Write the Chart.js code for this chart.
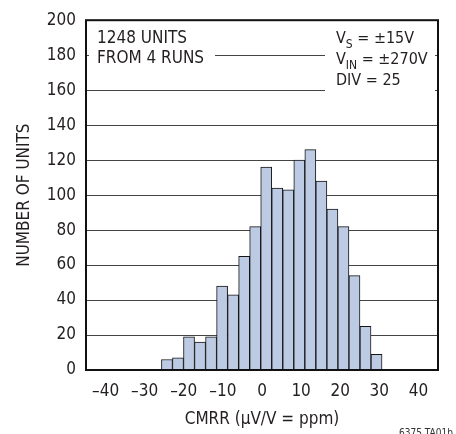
<!DOCTYPE html>
<html>
<head>
<meta charset="utf-8">
<script src="https://cdn.jsdelivr.net/npm/chart.js@4/dist/chart.umd.min.js"></script>
<style>
  html, body { margin: 0; padding: 0; background: #fff; }
  #wrap { width: 456px; height: 434px; position: relative; }
</style>
</head>
<body>
<div id="wrap"><canvas id="histChart"></canvas></div>
<script>
(function() {
    "use strict";

    var FONT = "'Liberation Sans Narrow', 'DejaVu Sans Condensed', 'Arial Narrow', sans-serif";

    // bin centres (µV/V) and counts
    var binCenters = [-24.30, -21.48, -18.66, -15.84, -13.02, -10.20, -7.38, -4.56, -1.74, 1.08,
                      3.90, 6.72, 9.54, 12.36, 15.18, 18.00, 20.82, 23.64, 26.46, 29.28];
    var unitCounts = [6, 7, 19, 16, 19, 48, 43, 65, 82, 116,
                      104, 103, 120, 126, 108, 92, 82, 54, 25, 9];
    var xTicks = [-40, -30, -20, -10, 0, 10, 20, 30, 40];
    var yTicks = [0, 20, 40, 60, 80, 100, 120, 140, 160, 180, 200];

    var points = binCenters.map(function(c, i) {
        return { x: c, y: unitCounts[i] };
    });

    // frame + text boxes inside the plot
    var notesPlugin = {
        id: 'notes',
        afterDatasetsDraw: function(chart) {
            var ctx = chart.ctx;
            var a = chart.chartArea;
            ctx.save();

            // white boxes that interrupt the grid lines
            ctx.fillStyle = '#fff';
            ctx.fillRect(a.left + 3, a.top + 2, 126, 50);
            ctx.fillRect(a.left + 239, a.top + 2, 110, 78);

            ctx.fillStyle = '#231f20';
            ctx.textBaseline = 'alphabetic';
            ctx.textAlign = 'left';
            ctx.font = '17px ' + FONT;
            ctx.fillText('1248 UNITS', a.left + 11, a.top + 23);
            ctx.fillText('FROM 4 RUNS', a.left + 11, a.top + 43);

            function sub(x, y, main, small, rest) {
                ctx.font = '16px ' + FONT;
                ctx.fillText(main, x, y);
                x += ctx.measureText(main).width;
                ctx.font = '12px ' + FONT;
                ctx.fillText(small, x, y + 5);
                x += ctx.measureText(small).width;
                ctx.font = '16px ' + FONT;
                ctx.fillText(rest, x, y);
            }
            sub(a.left + 250, a.top + 23, 'V', 'S', ' = ±15V');
            sub(a.left + 250, a.top + 44, 'V', 'IN', ' = ±270V');
            ctx.fillText('DIV = 25', a.left + 250, a.top + 65);

            // plot frame
            ctx.strokeStyle = '#111';
            ctx.lineWidth = 2;
            ctx.strokeRect(a.left, a.top, a.right - a.left, a.bottom - a.top);

            // figure code
            ctx.font = '10px ' + FONT;
            ctx.fillStyle = '#333';
            ctx.textAlign = 'center';
            ctx.fillText('6375 TA01b', 426, 436);
            ctx.restore();
        }
    };

    var ctx = document.getElementById('histChart').getContext('2d');
    var histChart = new Chart(ctx, {
        type: 'bar',
        data: {
            datasets: [{
                data: points,
                backgroundColor: '#bccbe3',
                borderColor: '#151515',
                borderWidth: 1,
                barThickness: 'flex',
                barPercentage: 1,
                categoryPercentage: 1
            }]
        },
        options: {
            responsive: true,
            maintainAspectRatio: false,
            animation: false,
            devicePixelRatio: 1,
            layout: { padding: { top: 19, right: 18, left: 10, bottom: 0 } },
            plugins: {
                legend: { display: false },
                tooltip: { enabled: false }
            },
            scales: {
                x: {
                    type: 'linear',
                    min: -40,
                    max: 40,
                    afterBuildTicks: function(scale) {
                        scale.ticks = xTicks.map(function(v) { return { value: v }; });
                    },
                    afterFit: function(scale) { scale.height = 64; },
                    grid: { display: false, drawTicks: false },
                    border: { display: false },
                    ticks: {
                        color: '#231f20',
                        padding: 11,
                        maxRotation: 0,
                        font: { family: FONT, size: 17 },
                        callback: function(v) { return String(v).replace('-', '\u2013'); }
                    },
                    title: {
                        display: true,
                        text: 'CMRR (µV/V = ppm)',
                        color: '#231f20',
                        font: { family: FONT, size: 17 },
                        padding: { top: 0 }
                    }
                },
                y: {
                    min: 0,
                    max: 200,
                    afterBuildTicks: function(scale) {
                        scale.ticks = yTicks.map(function(v) { return { value: v }; });
                    },
                    afterFit: function(scale) { scale.width = 76; },
                    grid: { color: '#444', lineWidth: 1, drawTicks: false },
                    border: { display: false },
                    ticks: {
                        color: '#231f20',
                        padding: 10,
                        font: { family: FONT, size: 17 }
                    },
                    title: {
                        display: true,
                        text: 'NUMBER OF UNITS',
                        color: '#231f20',
                        font: { family: FONT, size: 17 },
                        padding: { bottom: 6 }
                    }
                }
            }
        },
        plugins: [notesPlugin]
    });
})();
</script>
</body>
</html>
